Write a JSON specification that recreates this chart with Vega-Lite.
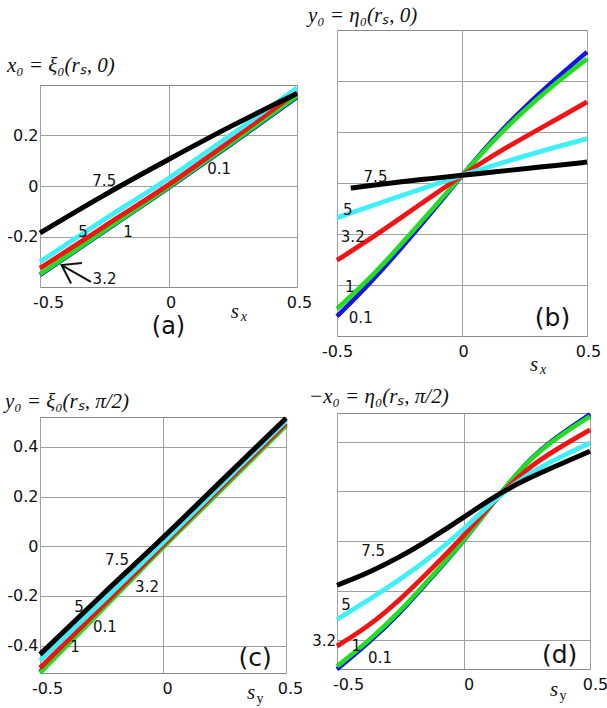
{
  "$schema": "https://vega.github.io/schema/vega-lite/v6.json",
  "background": "white",
  "padding": {"left": 4, "top": 4, "right": 0, "bottom": 0},
  "config": {
    "view": {"stroke": "#8a8a8a", "strokeWidth": 1},
    "axis": {"grid": true, "gridColor": "#a0a0a0", "gridWidth": 1, "ticks": false, "domain": false, "labelFont": "DejaVu Sans", "labelFontSize": 16, "labelColor": "#111111", "labelFlush": false},
    "title": {"font": "Liberation Serif", "fontSize": 21, "fontStyle": "italic", "fontWeight": "normal", "anchor": "start", "frame": "group", "color": "#111111", "offset": 4},
    "text": {"font": "DejaVu Sans", "fontSize": 15, "color": "#111111"}
  },
  "datasets": {
    "spacer": [{"k": 0}],
    "curves_a": [
      {"s": -0.5, "v": -0.352, "r": "0.1"}, {"s": -0.25, "v": -0.180, "r": "0.1"}, {"s": 0, "v": -0.007, "r": "0.1"}, {"s": 0.25, "v": 0.170, "r": "0.1"}, {"s": 0.5, "v": 0.352, "r": "0.1"},
      {"s": -0.5, "v": -0.349, "r": "1"}, {"s": -0.25, "v": -0.177, "r": "1"}, {"s": 0, "v": -0.004, "r": "1"}, {"s": 0.25, "v": 0.174, "r": "1"}, {"s": 0.5, "v": 0.357, "r": "1"},
      {"s": -0.5, "v": -0.326, "r": "3.2"}, {"s": -0.25, "v": -0.160, "r": "3.2"}, {"s": 0, "v": 0.005, "r": "3.2"}, {"s": 0.25, "v": 0.186, "r": "3.2"}, {"s": 0.5, "v": 0.372, "r": "3.2"},
      {"s": -0.5, "v": -0.300, "r": "5"}, {"s": -0.25, "v": -0.133, "r": "5"}, {"s": 0, "v": 0.030, "r": "5"}, {"s": 0.25, "v": 0.207, "r": "5"}, {"s": 0.5, "v": 0.388, "r": "5"},
      {"s": -0.5, "v": -0.186, "r": "7.5"}, {"s": -0.25, "v": -0.036, "r": "7.5"}, {"s": 0, "v": 0.105, "r": "7.5"}, {"s": 0.25, "v": 0.240, "r": "7.5"}, {"s": 0.5, "v": 0.366, "r": "7.5"}
    ],
    "curves_b": [
      {"s": -0.5, "v": -0.523, "r": "0.1"}, {"s": -0.375, "v": -0.401, "r": "0.1"}, {"s": -0.25, "v": -0.264, "r": "0.1"}, {"s": -0.125, "v": -0.120, "r": "0.1"}, {"s": 0, "v": 0.030, "r": "0.1"}, {"s": 0.125, "v": 0.174, "r": "0.1"}, {"s": 0.25, "v": 0.298, "r": "0.1"}, {"s": 0.375, "v": 0.409, "r": "0.1"}, {"s": 0.5, "v": 0.514, "r": "0.1"},
      {"s": -0.5, "v": -0.493, "r": "1"}, {"s": -0.375, "v": -0.382, "r": "1"}, {"s": -0.25, "v": -0.248, "r": "1"}, {"s": -0.125, "v": -0.110, "r": "1"}, {"s": 0, "v": 0.030, "r": "1"}, {"s": 0.125, "v": 0.167, "r": "1"}, {"s": 0.25, "v": 0.287, "r": "1"}, {"s": 0.375, "v": 0.392, "r": "1"}, {"s": 0.5, "v": 0.487, "r": "1"},
      {"s": -0.5, "v": -0.303, "r": "3.2"}, {"s": -0.375, "v": -0.225, "r": "3.2"}, {"s": -0.25, "v": -0.140, "r": "3.2"}, {"s": -0.125, "v": -0.055, "r": "3.2"}, {"s": 0, "v": 0.030, "r": "3.2"}, {"s": 0.125, "v": 0.109, "r": "3.2"}, {"s": 0.25, "v": 0.180, "r": "3.2"}, {"s": 0.375, "v": 0.248, "r": "3.2"}, {"s": 0.5, "v": 0.318, "r": "3.2"},
      {"s": -0.5, "v": -0.136, "r": "5"}, {"s": -0.375, "v": -0.094, "r": "5"}, {"s": -0.25, "v": -0.052, "r": "5"}, {"s": -0.125, "v": -0.011, "r": "5"}, {"s": 0, "v": 0.030, "r": "5"}, {"s": 0.125, "v": 0.069, "r": "5"}, {"s": 0.25, "v": 0.106, "r": "5"}, {"s": 0.375, "v": 0.141, "r": "5"}, {"s": 0.5, "v": 0.174, "r": "5"},
      {"s": -0.445, "v": -0.020, "r": "7.5"}, {"s": -0.375, "v": -0.011, "r": "7.5"}, {"s": -0.25, "v": 0.005, "r": "7.5"}, {"s": -0.125, "v": 0.017, "r": "7.5"}, {"s": 0, "v": 0.030, "r": "7.5"}, {"s": 0.125, "v": 0.043, "r": "7.5"}, {"s": 0.25, "v": 0.056, "r": "7.5"}, {"s": 0.375, "v": 0.069, "r": "7.5"}, {"s": 0.5, "v": 0.082, "r": "7.5"}
    ],
    "curves_c": [
      {"s": -0.5, "v": -0.505, "r": "0.1"}, {"s": -0.25, "v": -0.255, "r": "0.1"}, {"s": 0, "v": -0.003, "r": "0.1"}, {"s": 0.25, "v": 0.243, "r": "0.1"}, {"s": 0.5, "v": 0.488, "r": "0.1"},
      {"s": -0.5, "v": -0.510, "r": "1"}, {"s": -0.25, "v": -0.258, "r": "1"}, {"s": 0, "v": -0.005, "r": "1"}, {"s": 0.25, "v": 0.240, "r": "1"}, {"s": 0.5, "v": 0.485, "r": "1"},
      {"s": -0.5, "v": -0.490, "r": "3.2"}, {"s": -0.25, "v": -0.245, "r": "3.2"}, {"s": 0, "v": 0.005, "r": "3.2"}, {"s": 0.25, "v": 0.250, "r": "3.2"}, {"s": 0.5, "v": 0.495, "r": "3.2"},
      {"s": -0.5, "v": -0.460, "r": "5"}, {"s": -0.25, "v": -0.225, "r": "5"}, {"s": 0, "v": 0.015, "r": "5"}, {"s": 0.25, "v": 0.260, "r": "5"}, {"s": 0.5, "v": 0.505, "r": "5"},
      {"s": -0.5, "v": -0.435, "r": "7.5"}, {"s": -0.25, "v": -0.198, "r": "7.5"}, {"s": 0, "v": 0.035, "r": "7.5"}, {"s": 0.25, "v": 0.275, "r": "7.5"}, {"s": 0.5, "v": 0.515, "r": "7.5"}
    ],
    "curves_d": [
      {"s": -0.5, "v": -0.516, "r": "0.1"}, {"s": -0.375, "v": -0.410, "r": "0.1"}, {"s": -0.25, "v": -0.290, "r": "0.1"}, {"s": -0.125, "v": -0.146, "r": "0.1"}, {"s": 0, "v": -0.003, "r": "0.1"}, {"s": 0.125, "v": 0.165, "r": "0.1"}, {"s": 0.25, "v": 0.322, "r": "0.1"}, {"s": 0.375, "v": 0.425, "r": "0.1"}, {"s": 0.5, "v": 0.510, "r": "0.1"},
      {"s": -0.5, "v": -0.504, "r": "1"}, {"s": -0.375, "v": -0.403, "r": "1"}, {"s": -0.25, "v": -0.283, "r": "1"}, {"s": -0.125, "v": -0.142, "r": "1"}, {"s": 0, "v": -0.001, "r": "1"}, {"s": 0.125, "v": 0.166, "r": "1"}, {"s": 0.25, "v": 0.320, "r": "1"}, {"s": 0.375, "v": 0.421, "r": "1"}, {"s": 0.5, "v": 0.501, "r": "1"},
      {"s": -0.5, "v": -0.423, "r": "3.2"}, {"s": -0.375, "v": -0.343, "r": "3.2"}, {"s": -0.25, "v": -0.236, "r": "3.2"}, {"s": -0.125, "v": -0.111, "r": "3.2"}, {"s": 0, "v": 0.019, "r": "3.2"}, {"s": 0.125, "v": 0.166, "r": "3.2"}, {"s": 0.25, "v": 0.293, "r": "3.2"}, {"s": 0.375, "v": 0.374, "r": "3.2"}, {"s": 0.5, "v": 0.447, "r": "3.2"},
      {"s": -0.5, "v": -0.316, "r": "5"}, {"s": -0.375, "v": -0.237, "r": "5"}, {"s": -0.25, "v": -0.155, "r": "5"}, {"s": -0.125, "v": -0.062, "r": "5"}, {"s": 0, "v": 0.045, "r": "5"}, {"s": 0.125, "v": 0.170, "r": "5"}, {"s": 0.25, "v": 0.268, "r": "5"}, {"s": 0.375, "v": 0.335, "r": "5"}, {"s": 0.5, "v": 0.394, "r": "5"},
      {"s": -0.5, "v": -0.178, "r": "7.5"}, {"s": -0.375, "v": -0.128, "r": "7.5"}, {"s": -0.25, "v": -0.064, "r": "7.5"}, {"s": -0.125, "v": 0.012, "r": "7.5"}, {"s": 0, "v": 0.094, "r": "7.5"}, {"s": 0.125, "v": 0.182, "r": "7.5"}, {"s": 0.25, "v": 0.250, "r": "7.5"}, {"s": 0.375, "v": 0.306, "r": "7.5"}, {"s": 0.5, "v": 0.361, "r": "7.5"}
    ],
    "labels_a": [
      {"s": -0.25, "v": 0.02, "t": "7.5"}, {"s": 0.197, "v": 0.067, "t": "0.1"}, {"s": -0.333, "v": -0.182, "t": "5"}, {"s": -0.158, "v": -0.182, "t": "1"}, {"s": -0.249, "v": -0.368, "t": "3.2"}
    ],
    "labels_b": [
      {"s": -0.346, "v": 0.024, "t": "7.5"}, {"s": -0.457, "v": -0.106, "t": "5"}, {"s": -0.437, "v": -0.212, "t": "3.2"}, {"s": -0.449, "v": -0.408, "t": "1"}, {"s": -0.405, "v": -0.53, "t": "0.1"}
    ],
    "labels_c": [
      {"s": -0.187, "v": -0.056, "t": "7.5"}, {"s": -0.065, "v": -0.165, "t": "3.2"}, {"s": -0.341, "v": -0.245, "t": "5"}, {"s": -0.236, "v": -0.326, "t": "0.1"}, {"s": -0.358, "v": -0.406, "t": "1"}
    ],
    "labels_d": [
      {"s": -0.357, "v": -0.041, "t": "7.5"}, {"s": -0.464, "v": -0.256, "t": "5"}, {"s": -0.551, "v": -0.403, "t": "3.2"}, {"s": -0.424, "v": -0.423, "t": "1"}, {"s": -0.33, "v": -0.47, "t": "0.1"}
    ],
    "arrow_a": [
      {"s": -0.337, "v": -0.305, "seg": "head", "o": 1}, {"s": -0.416, "v": -0.313, "seg": "head", "o": 2}, {"s": -0.379, "v": -0.386, "seg": "head", "o": 3},
      {"s": -0.416, "v": -0.313, "seg": "shaft", "o": 1}, {"s": -0.302, "v": -0.380, "seg": "shaft", "o": 2}
    ],
    "tags": [
      {"p": "a", "s": 0.0, "v": -0.56, "t": "(a)", "ax": "s", "sub": "x", "as": 0.27, "av": -0.50},
      {"p": "b", "s": 0.362, "v": -0.53, "t": "(b)", "ax": "s", "sub": "x", "as": 0.30, "av": -0.714},
      {"p": "c", "s": 0.374, "v": -0.45, "t": "(c)", "ax": "s", "sub": "y", "as": 0.37, "av": -0.59},
      {"p": "d", "s": 0.38, "v": -0.46, "t": "(d)", "ax": "s", "sub": "y", "as": 0.37, "av": -0.60}
    ]
  },
  "spacing": -6,
  "hconcat": [
    {
      "spacing": 4,
      "vconcat": [
        {
          "width": 40, "height": 20,
          "view": {"stroke": null},
          "data": {"name": "spacer"},
          "mark": {"type": "point", "opacity": 0},
          "encoding": {}
        },
        {
          "width": 257, "height": 202,
          "title": {"text": "x₀ = ξ₀(rₛ, 0)", "dx": -33, "offset": 2},
          "layer": [
            {
              "data": {"name": "curves_a"},
              "mark": {"type": "line", "strokeCap": "butt", "interpolate": "monotone"},
              "encoding": {
                "x": {"field": "s", "type": "quantitative", "title": null, "scale": {"domain": [-0.5, 0.5], "nice": false, "zero": false},
                      "axis": {"values": [-0.5, 0, 0.5], "labelPadding": 7, "labelOffset": {"condition": {"test": "datum.value == -0.5", "value": 8}, "value": 2}, "labelExpr": "datum.value < 0 ? '-' + format(-datum.value, '.1f') : (datum.value == 0 ? '0' : format(datum.value, '.1f'))"}},
                "y": {"field": "v", "type": "quantitative", "title": null, "scale": {"domain": [-0.4, 0.4], "nice": false, "zero": false},
                      "axis": {"values": [-0.2, 0, 0.2], "labelPadding": 2, "labelExpr": "datum.value < 0 ? '-' + format(-datum.value, '.1f') : (datum.value == 0 ? '0' : format(datum.value, '.1f'))"}},
                "color": {"field": "r", "type": "nominal", "legend": null, "scale": {"domain": ["0.1", "1", "3.2", "5", "7.5"], "range": ["#1414e6", "#22dd22", "#f01414", "#40f0f8", "#000000"]}},
                "strokeWidth": {"field": "r", "type": "ordinal", "legend": null, "scale": {"domain": ["0.1", "1", "3.2", "5", "7.5"], "range": [4.5, 5, 2.5, 5, 5]}}
              }
            },
            {
              "data": {"name": "labels_a"},
              "mark": {"type": "text"},
              "encoding": {"x": {"field": "s", "type": "quantitative", "title": null}, "y": {"field": "v", "type": "quantitative", "title": null}, "text": {"field": "t"}}
            },
            {
              "data": {"name": "arrow_a"},
              "mark": {"type": "line", "color": "#111111", "strokeWidth": 2},
              "encoding": {"x": {"field": "s", "type": "quantitative", "title": null}, "y": {"field": "v", "type": "quantitative", "title": null}, "detail": {"field": "seg"}, "order": {"field": "o"}}
            },
            {
              "data": {"name": "tags"},
              "transform": [{"filter": "datum.p == 'a'"}],
              "mark": {"type": "text", "fontSize": 24},
              "encoding": {"x": {"field": "s", "type": "quantitative", "title": null}, "y": {"field": "v", "type": "quantitative", "title": null}, "text": {"field": "t"}}
            },
            {
              "data": {"name": "tags"},
              "transform": [{"filter": "datum.p == 'a'"}],
              "mark": {"type": "text", "font": "Liberation Serif", "fontStyle": "italic", "fontSize": 21, "dx": -3},
              "encoding": {"x": {"field": "as", "type": "quantitative", "title": null}, "y": {"field": "av", "type": "quantitative", "title": null}, "text": {"field": "ax"}}
            },
            {
              "data": {"name": "tags"},
              "transform": [{"filter": "datum.p == 'a'"}],
              "mark": {"type": "text", "font": "Liberation Serif", "fontStyle": "italic", "fontSize": 14, "dx": 6, "dy": 5},
              "encoding": {"x": {"field": "as", "type": "quantitative", "title": null}, "y": {"field": "av", "type": "quantitative", "title": null}, "text": {"field": "sub"}}
            }
          ]
        },
        {
          "width": 246, "height": 256,
          "title": {"text": [" ", "y₀ = ξ₀(rₛ, π/2)"], "lineHeight": 46, "dx": -35, "offset": -4},
          "layer": [
            {
              "data": {"name": "curves_c"},
              "mark": {"type": "line", "strokeCap": "butt", "interpolate": "monotone"},
              "encoding": {
                "x": {"field": "s", "type": "quantitative", "title": null, "scale": {"domain": [-0.5, 0.5], "nice": false, "zero": false},
                      "axis": {"values": [-0.5, 0, 0.5], "labelPadding": 7, "labelOffset": {"condition": {"test": "datum.value == -0.5", "value": 7}, "value": 4}, "labelExpr": "datum.value < 0 ? '-' + format(-datum.value, '.1f') : (datum.value == 0 ? '0' : format(datum.value, '.1f'))"}},
                "y": {"field": "v", "type": "quantitative", "title": null, "scale": {"domain": [-0.51, 0.52], "nice": false, "zero": false},
                      "axis": {"values": [-0.4, -0.2, 0, 0.2, 0.4], "labelPadding": 2, "labelExpr": "datum.value < 0 ? '-' + format(-datum.value, '.1f') : (datum.value == 0 ? '0' : format(datum.value, '.1f'))"}},
                "color": {"field": "r", "type": "nominal", "legend": null, "scale": {"domain": ["0.1", "1", "3.2", "5", "7.5"], "range": ["#1414e6", "#22dd22", "#f01414", "#40f0f8", "#000000"]}},
                "strokeWidth": {"field": "r", "type": "ordinal", "legend": null, "scale": {"domain": ["0.1", "1", "3.2", "5", "7.5"], "range": [3, 3, 2, 4, 5]}}
              }
            },
            {
              "data": {"name": "labels_c"},
              "mark": {"type": "text"},
              "encoding": {"x": {"field": "s", "type": "quantitative", "title": null}, "y": {"field": "v", "type": "quantitative", "title": null}, "text": {"field": "t"}}
            },
            {
              "data": {"name": "tags"},
              "transform": [{"filter": "datum.p == 'c'"}],
              "mark": {"type": "text", "fontSize": 25},
              "encoding": {"x": {"field": "s", "type": "quantitative", "title": null}, "y": {"field": "v", "type": "quantitative", "title": null}, "text": {"field": "t"}}
            },
            {
              "data": {"name": "tags"},
              "transform": [{"filter": "datum.p == 'c'"}],
              "mark": {"type": "text", "font": "Liberation Serif", "fontStyle": "italic", "fontSize": 21, "dx": -3},
              "encoding": {"x": {"field": "as", "type": "quantitative", "title": null}, "y": {"field": "av", "type": "quantitative", "title": null}, "text": {"field": "ax"}}
            },
            {
              "data": {"name": "tags"},
              "transform": [{"filter": "datum.p == 'c'"}],
              "mark": {"type": "text", "font": "Liberation Serif", "fontSize": 14, "dx": 6, "dy": 6},
              "encoding": {"x": {"field": "as", "type": "quantitative", "title": null}, "y": {"field": "av", "type": "quantitative", "title": null}, "text": {"field": "sub"}}
            }
          ]
        }
      ]
    },
    {
      "spacing": 7,
      "vconcat": [
        {
          "width": 250, "height": 306,
          "title": {"text": "y₀ = η₀(rₛ, 0)", "dx": -29},
          "layer": [
            {
              "data": {"name": "curves_b"},
              "mark": {"type": "line", "strokeCap": "butt", "interpolate": "basis"},
              "encoding": {
                "x": {"field": "s", "type": "quantitative", "title": null, "scale": {"domain": [-0.5, 0.5], "nice": false, "zero": false},
                      "axis": {"values": [-0.5, 0, 0.5], "labelPadding": 7, "labelOffset": {"condition": {"test": "datum.value == -0.5", "value": 0}, "value": 1}, "labelExpr": "datum.value < 0 ? '-' + format(-datum.value, '.1f') : (datum.value == 0 ? '0' : format(datum.value, '.1f'))"}},
                "y": {"field": "v", "type": "quantitative", "title": null, "scale": {"domain": [-0.6, 0.6], "nice": false, "zero": false},
                      "axis": {"values": [-0.4, -0.2, 0, 0.2, 0.4], "labels": false}},
                "color": {"field": "r", "type": "nominal", "legend": null, "scale": {"domain": ["0.1", "1", "3.2", "5", "7.5"], "range": ["#1414e6", "#22dd22", "#f01414", "#40f0f8", "#000000"]}},
                "strokeWidth": {"field": "r", "type": "ordinal", "legend": null, "scale": {"domain": ["0.1", "1", "3.2", "5", "7.5"], "range": [4.5, 4.5, 4, 4, 4]}}
              }
            },
            {
              "data": {"name": "labels_b"},
              "mark": {"type": "text"},
              "encoding": {"x": {"field": "s", "type": "quantitative", "title": null}, "y": {"field": "v", "type": "quantitative", "title": null}, "text": {"field": "t"}}
            },
            {
              "data": {"name": "tags"},
              "transform": [{"filter": "datum.p == 'b'"}],
              "mark": {"type": "text", "fontSize": 25},
              "encoding": {"x": {"field": "s", "type": "quantitative", "title": null}, "y": {"field": "v", "type": "quantitative", "title": null}, "text": {"field": "t"}}
            },
            {
              "data": {"name": "tags"},
              "transform": [{"filter": "datum.p == 'b'"}],
              "mark": {"type": "text", "font": "Liberation Serif", "fontStyle": "italic", "fontSize": 21, "dx": -3},
              "encoding": {"x": {"field": "as", "type": "quantitative", "title": null}, "y": {"field": "av", "type": "quantitative", "title": null}, "text": {"field": "ax"}}
            },
            {
              "data": {"name": "tags"},
              "transform": [{"filter": "datum.p == 'b'"}],
              "mark": {"type": "text", "font": "Liberation Serif", "fontStyle": "italic", "fontSize": 14, "dx": 6, "dy": 5},
              "encoding": {"x": {"field": "as", "type": "quantitative", "title": null}, "y": {"field": "av", "type": "quantitative", "title": null}, "text": {"field": "sub"}}
            }
          ]
        },
        {
          "width": 253, "height": 256,
          "title": {"text": "−x₀ = η₀(rₛ, π/2)", "dx": -28, "offset": -2},
          "layer": [
            {
              "data": {"name": "curves_d"},
              "mark": {"type": "line", "strokeCap": "butt", "interpolate": "basis"},
              "encoding": {
                "x": {"field": "s", "type": "quantitative", "title": null, "scale": {"domain": [-0.5, 0.5], "nice": false, "zero": false},
                      "axis": {"values": [-0.5, 0, 0.5], "labelPadding": 7, "labelOffset": {"condition": {"test": "datum.value == -0.5", "value": 11}, "value": 5}, "labelExpr": "datum.value < 0 ? '-' + format(-datum.value, '.1f') : (datum.value == 0 ? '0' : format(datum.value, '.1f'))"}},
                "y": {"field": "v", "type": "quantitative", "title": null, "scale": {"domain": [-0.515, 0.515], "nice": false, "zero": false},
                      "axis": {"values": [-0.4, -0.2, 0, 0.2, 0.4], "labels": false}},
                "color": {"field": "r", "type": "nominal", "legend": null, "scale": {"domain": ["0.1", "1", "3.2", "5", "7.5"], "range": ["#1414e6", "#22dd22", "#f01414", "#40f0f8", "#000000"]}},
                "strokeWidth": {"field": "r", "type": "ordinal", "legend": null, "scale": {"domain": ["0.1", "1", "3.2", "5", "7.5"], "range": [4, 4.5, 4.5, 4.5, 4.5]}}
              }
            },
            {
              "data": {"name": "labels_d"},
              "mark": {"type": "text"},
              "encoding": {"x": {"field": "s", "type": "quantitative", "title": null}, "y": {"field": "v", "type": "quantitative", "title": null}, "text": {"field": "t"}}
            },
            {
              "data": {"name": "tags"},
              "transform": [{"filter": "datum.p == 'd'"}],
              "mark": {"type": "text", "fontSize": 25},
              "encoding": {"x": {"field": "s", "type": "quantitative", "title": null}, "y": {"field": "v", "type": "quantitative", "title": null}, "text": {"field": "t"}}
            },
            {
              "data": {"name": "tags"},
              "transform": [{"filter": "datum.p == 'd'"}],
              "mark": {"type": "text", "font": "Liberation Serif", "fontStyle": "italic", "fontSize": 21, "dx": -3},
              "encoding": {"x": {"field": "as", "type": "quantitative", "title": null}, "y": {"field": "av", "type": "quantitative", "title": null}, "text": {"field": "ax"}}
            },
            {
              "data": {"name": "tags"},
              "transform": [{"filter": "datum.p == 'd'"}],
              "mark": {"type": "text", "font": "Liberation Serif", "fontSize": 14, "dx": 6, "dy": 6},
              "encoding": {"x": {"field": "as", "type": "quantitative", "title": null}, "y": {"field": "av", "type": "quantitative", "title": null}, "text": {"field": "sub"}}
            }
          ]
        }
      ]
    }
  ]
}
